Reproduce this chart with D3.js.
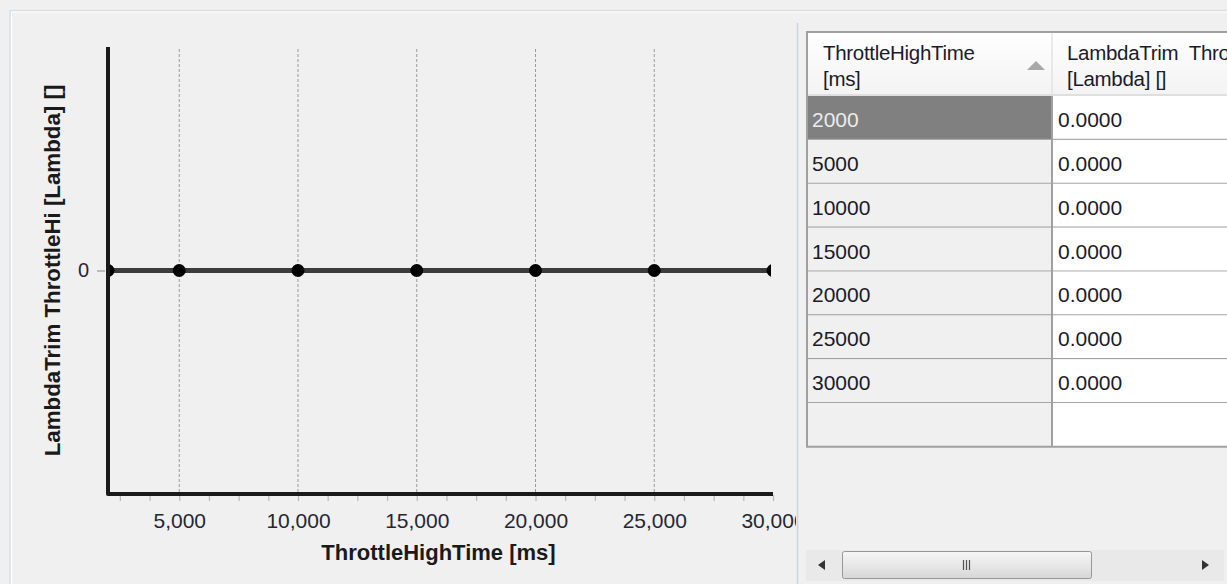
<!DOCTYPE html>
<html>
<head>
<meta charset="utf-8">
<script src="https://cdn.jsdelivr.net/npm/d3@7"></script>
<style>
  html, body { margin: 0; padding: 0; background: #f0f0f0; }
  svg { display: block; font-family: "Liberation Sans", Arial, sans-serif; }
</style>
</head>
<body>
<svg id="chart"></svg>
<script>
// data
const throttleHighTime = [2000, 5000, 10000, 15000, 20000, 25000, 30000];
const lambdaTrim = [0, 0, 0, 0, 0, 0, 0];
const xTickValues = [5000, 10000, 15000, 20000, 25000, 30000];
const yTickValues = [0];
const xTitle = "ThrottleHighTime [ms]";
const yTitle = "LambdaTrim ThrottleHi [Lambda] []";
const headerLines = [["ThrottleHighTime", "[ms]"], ["LambdaTrim  ThrottleHi", "[Lambda] []"]];
const cellFormat = d3.format(".4f");

const width = 1227, height = 584;
const svg = d3.select("#chart").attr("width", width).attr("height", height);
const defs = svg.append("defs");

// panel frames
svg.append("rect").attr("width", width).attr("height", height).attr("fill", "#f0f0f0");
svg.append("path").attr("d", "M10,584V10.5H1227").attr("fill", "none").attr("stroke", "#d6e0e8").attr("stroke-width", 1.5);
svg.append("path").attr("d", "M11.5,584V12H1227").attr("fill", "none").attr("stroke", "#ffffff").attr("stroke-width", 1);
svg.append("line").attr("x1", 797.5).attr("x2", 797.5).attr("y1", 23).attr("y2", height)
    .attr("stroke", "#c9d6e2").attr("stroke-width", 1.5);

// ---- chart ----
const plot = { left: 108, right: 773, top: 47, bottom: 494 };

const x = d3.scaleLinear().domain([2000, 30000]).range([plot.left, plot.right]);
const y = d3.scaleLinear().domain([-1, 1]).range([plot.bottom, plot.top]);

defs.append("clipPath").attr("id", "plotclip")
    .append("rect")
    .attr("x", plot.left).attr("y", plot.top - 10)
    .attr("width", plot.right - plot.left - 2).attr("height", plot.bottom - plot.top + 10);
defs.append("clipPath").attr("id", "panelclip")
    .append("rect").attr("x", 0).attr("y", 0).attr("width", 796).attr("height", height);

const chart = svg.append("g").attr("clip-path", "url(#panelclip)");

// dashed grid
chart.append("g")
    .selectAll("line")
    .data(xTickValues.filter(d => d < 30000))
    .join("line")
    .attr("x1", d => x(d)).attr("x2", d => x(d))
    .attr("y1", plot.top + 2).attr("y2", plot.bottom)
    .attr("stroke", "#9a9a9a")
    .attr("stroke-width", 1)
    .attr("stroke-dasharray", "3,2");

// minor ticks below the x axis
const minorTicks = d3.range(2500, 30001, 1250);
const xMinor = chart.append("g")
    .attr("transform", `translate(0,${plot.bottom + 1})`)
    .call(d3.axisBottom(x).tickValues(minorTicks).tickSize(6).tickSizeOuter(0).tickFormat(""));
xMinor.select(".domain").remove();
xMinor.selectAll(".tick line").attr("stroke", "#b8b8b8").attr("stroke-width", 1.2);

// x tick labels
const xAxis = chart.append("g")
    .attr("transform", `translate(0,${plot.bottom})`)
    .call(d3.axisBottom(x).tickValues(xTickValues).tickSize(0).tickPadding(19).tickFormat(d3.format(",")));
xAxis.select(".domain").remove();
xAxis.selectAll(".tick text")
    .attr("font-size", 21)
    .attr("fill", "#262633")
    .attr("font-family", "'Liberation Sans', Arial, sans-serif");

// y axis tick + label
const yAxis = chart.append("g")
    .attr("transform", `translate(${plot.left - 3},0)`)
    .call(d3.axisLeft(y).tickValues(yTickValues).tickSize(8).tickPadding(8).tickFormat(d3.format("d")));
yAxis.select(".domain").remove();
yAxis.selectAll(".tick line").attr("stroke", "#9a9a9a").attr("stroke-width", 1.2);
yAxis.selectAll(".tick text")
    .attr("font-size", 20)
    .attr("fill", "#262633")
    .attr("font-family", "'Liberation Sans', Arial, sans-serif");

// series
const points = throttleHighTime.map((t, i) => ({ t: t, v: lambdaTrim[i] }));
const series = chart.append("g").attr("clip-path", "url(#plotclip)");
series.append("path")
    .datum(points)
    .attr("fill", "none")
    .attr("stroke", "#3c3c3c")
    .attr("stroke-width", 5)
    .attr("d", d3.line().x(d => x(d.t)).y(d => y(d.v)));
series.selectAll("circle")
    .data(points)
    .join("circle")
    .attr("cx", d => x(d.t))
    .attr("cy", d => y(d.v))
    .attr("r", 6.5)
    .attr("fill", "#000");

// axis lines
chart.append("path")
    .attr("d", `M${plot.left},${plot.top}V${plot.bottom}H${plot.right}`)
    .attr("fill", "none")
    .attr("stroke", "#1a1a1a")
    .attr("stroke-width", 4)
    .attr("stroke-linejoin", "round");

// axis titles
chart.append("text")
    .attr("x", (plot.left + plot.right) / 2 - 2)
    .attr("y", 560)
    .attr("text-anchor", "middle")
    .attr("font-size", 22)
    .attr("font-weight", "bold")
    .attr("fill", "#1a1a1a")
    .text(xTitle);

chart.append("text")
    .attr("transform", `translate(60,${(plot.top + plot.bottom) / 2}) rotate(-90)`)
    .attr("text-anchor", "middle")
    .attr("font-size", 22.3)
    .attr("font-weight", "bold")
    .attr("fill", "#1a1a1a")
    .text(yTitle);

// ---- table ----
const tbl = { left: 806, top: 31, headerBottom: 96, rowH: 43.85, col: 1052, right: 1230 };
const rowCount = throttleHighTime.length + 1;
const tableBottom = tbl.headerBottom + rowCount * tbl.rowH;

defs.append("clipPath").attr("id", "tblclip")
    .append("rect").attr("x", tbl.left).attr("y", tbl.top).attr("width", width - tbl.left).attr("height", 530);

const table = svg.append("g").attr("clip-path", "url(#tblclip)");

const headGrad = defs.append("linearGradient")
    .attr("id", "headgrad").attr("x1", 0).attr("x2", 0).attr("y1", 0).attr("y2", 1);
headGrad.append("stop").attr("offset", "0%").attr("stop-color", "#ffffff");
headGrad.append("stop").attr("offset", "100%").attr("stop-color", "#f3f3f3");

table.append("rect")
    .attr("x", tbl.left).attr("y", tbl.top)
    .attr("width", tbl.right - tbl.left).attr("height", tbl.headerBottom - tbl.top)
    .attr("fill", "url(#headgrad)");
table.append("line")
    .attr("x1", tbl.left).attr("x2", tbl.right).attr("y1", tbl.headerBottom - 1).attr("y2", tbl.headerBottom - 1)
    .attr("stroke", "#d8d8d8").attr("stroke-width", 1.5);
table.append("line")
    .attr("x1", tbl.col).attr("x2", tbl.col).attr("y1", tbl.top).attr("y2", tbl.headerBottom - 2)
    .attr("stroke", "#e3e3e3").attr("stroke-width", 1.5);

// header text
const headerX = [823, 1067];
headerLines.forEach((lines, c) => {
    table.append("g")
        .selectAll("text")
        .data(lines)
        .join("text")
        .attr("x", headerX[c])
        .attr("y", (d, i) => 60 + i * 26)
        .attr("font-size", 20.5)
        .attr("letter-spacing", -0.3)
        .attr("fill", "#1a1a2a")
        .attr("xml:space", "preserve")
        .style("white-space", "pre")
        .text(d => d);
});

// sort arrow
table.append("path")
    .attr("d", "M1027,70L1036,61L1045,70Z")
    .attr("fill", "#a8a8a8");

// rows
const rows = throttleHighTime.map((t, i) => ({ t: t, v: lambdaTrim[i], i: i }));
rows.push({ t: null, v: null, i: rows.length });

const rowG = table.append("g")
    .selectAll("g")
    .data(rows)
    .join("g")
    .attr("transform", d => `translate(0,${tbl.headerBottom + d.i * tbl.rowH})`);

rowG.append("rect")
    .attr("x", tbl.left).attr("y", 0)
    .attr("width", tbl.col - tbl.left).attr("height", tbl.rowH)
    .attr("fill", d => d.i === 0 ? "#808080" : "#f0f0f0");
rowG.append("rect")
    .attr("x", tbl.col).attr("y", 0)
    .attr("width", tbl.right - tbl.col).attr("height", tbl.rowH)
    .attr("fill", "#ffffff");
rowG.append("text")
    .attr("x", 812).attr("y", 31)
    .attr("font-size", 21)
    .attr("fill", d => d.i === 0 ? "#ececec" : "#1a1a2a")
    .text(d => d.t === null ? "" : d.t);
rowG.append("text")
    .attr("x", 1058).attr("y", 31)
    .attr("font-size", 21)
    .attr("fill", "#1a1a2a")
    .text(d => d.v === null ? "" : cellFormat(d.v));
rowG.append("line")
    .attr("x1", tbl.left).attr("x2", tbl.right)
    .attr("y1", tbl.rowH).attr("y2", tbl.rowH)
    .attr("stroke", "#a0a0a0").attr("stroke-width", 2);

// column divider and outer border
table.append("line")
    .attr("x1", tbl.col).attr("x2", tbl.col).attr("y1", tbl.headerBottom).attr("y2", tableBottom)
    .attr("stroke", "#a0a0a0").attr("stroke-width", 2);
table.append("path")
    .attr("d", `M${tbl.left + 1},${tableBottom}V${tbl.top + 1}H${tbl.right}`)
    .attr("fill", "none").attr("stroke", "#a0a0a0").attr("stroke-width", 2);

// horizontal scrollbar
const sb = svg.append("g");
sb.append("rect").attr("x", 806).attr("y", 550).attr("width", 418).attr("height", 31).attr("fill", "#e9e9e9");
sb.append("path").attr("d", "M818,565L825,560V570Z").attr("fill", "#333");
sb.append("path").attr("d", "M1209,565L1202,560V570Z").attr("fill", "#333");
const thumbGrad = defs.append("linearGradient")
    .attr("id", "thumbgrad").attr("x1", 0).attr("x2", 0).attr("y1", 0).attr("y2", 1);
thumbGrad.append("stop").attr("offset", "0%").attr("stop-color", "#f6f6f6");
thumbGrad.append("stop").attr("offset", "50%").attr("stop-color", "#e8e8e8");
thumbGrad.append("stop").attr("offset", "100%").attr("stop-color", "#d6d6d6");
sb.append("rect")
    .attr("x", 842.5).attr("y", 551.5).attr("width", 249).attr("height", 27).attr("rx", 2)
    .attr("fill", "url(#thumbgrad)").attr("stroke", "#979797").attr("stroke-width", 1);
sb.append("g")
    .selectAll("line")
    .data([-3, 0, 3])
    .join("line")
    .attr("x1", d => 966.5 + d).attr("x2", d => 966.5 + d)
    .attr("y1", 560).attr("y2", 570)
    .attr("stroke", "#555").attr("stroke-width", 1.2);
</script>
</body>
</html>
